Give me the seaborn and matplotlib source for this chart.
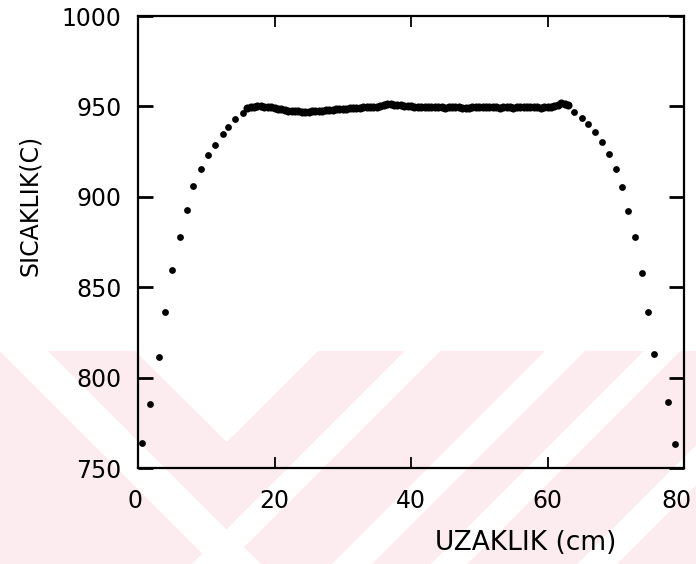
import numpy as np
import matplotlib
matplotlib.use("Agg")
import matplotlib.pyplot as plt
import matplotlib.transforms as mtransforms
from matplotlib.patches import Polygon
import seaborn as sns

# ---- data ----
left_x = [0.63, 1.76, 3.03, 4.0, 4.98, 6.11, 7.14, 8.1, 9.23, 10.26, 11.33, 12.41, 13.23, 14.21, 15.34]
left_y = [763.7, 785.4, 811.2, 836.4, 859.3, 877.8, 892.9, 905.7, 915.4, 923.1, 928.8, 934.6, 938.6, 943.0, 946.2]

plateau_start = 16.0
plateau_step = 0.5
plateau_y = [
    948.9, 949.5, 949.8, 950.0, 950.0, 949.9, 949.7, 949.5, 949.2, 948.8,
    948.4, 948.0, 947.7, 947.5, 947.3, 947.2, 947.1, 947.1, 947.1, 947.2,
    947.3, 947.4, 947.6, 947.8, 947.9, 948.1, 948.3, 948.4, 948.6, 948.7,
    948.9, 949.0, 949.1, 949.3, 949.4, 949.5, 949.6, 949.8, 949.9, 950.2,
    950.8, 951.3, 951.2, 950.6, 950.5, 950.6, 950.4, 950.3, 950.1, 949.9,
    949.8, 949.7, 949.6, 949.6, 949.5, 949.5, 949.5, 949.4, 949.3, 949.4,
    949.6, 949.7, 949.5, 949.2, 949.0, 949.3, 949.7, 949.8, 949.6, 949.5,
    949.4, 949.5, 949.5, 949.4, 949.3, 949.4, 949.6, 949.5, 949.3, 949.5,
    949.8, 949.6, 949.4, 949.5, 949.6, 949.4, 949.3, 949.5, 949.6, 949.7,
    950.1, 950.9, 951.7, 951.5, 950.8,
]

right_x = [63.9, 65.0, 66.0, 67.0, 68.0, 69.0, 70.0, 70.9, 71.75, 72.8, 73.8, 74.7, 75.65, 77.6, 78.7]
right_y = [947.1, 943.4, 940.0, 935.6, 930.5, 923.8, 915.2, 905.4, 892.1, 877.8, 857.7, 836.5, 813.1, 786.5, 763.3]

x_ticks = [0, 20, 40, 60, 80]
y_ticks = [750, 800, 850, 900, 950, 1000]
x_label = "UZAKLIK (cm)"
y_label = "SICAKLIK(C)"

plateau_x = [plateau_start + plateau_step * i for i in range(len(plateau_y))]
edge_x = left_x + right_x
edge_y = left_y + right_y

# ---- figure ----
sns.set_style("white")
plt.rcParams["font.family"] = ["DejaVu Sans"]
plt.rcParams["text.color"] = "black"

W, H = 696, 564
fig = plt.figure(figsize=(W / 100, H / 100), dpi=100)
fig.patch.set_facecolor("white")

# background watermark (pale pink stripes in the lower band)
pink = "#fdecef"
def px(pts):
    return [(x / W, 1 - y / H) for x, y in pts]

fig.patches.append(Polygon(px([(0, 351), (696, 351), (696, 564), (0, 564)]),
                           closed=True, transform=fig.transFigure,
                           facecolor=pink, edgecolor="none", zorder=-2))
white_shapes = [
    [(0, 351), (48, 351), (261, 564), (213, 564), (0, 351)],
    [(135, 351), (318, 351), (227, 442)],
    [(405, 351), (440, 351), (227, 564), (192, 564)],
    [(545, 351), (585, 351), (372, 564), (332, 564)],
    [(644, 351), (680, 351), (467, 564), (431, 564)],
    [(790, 351), (830, 351), (617, 564), (577, 564)],
]
for shp in white_shapes:
    fig.patches.append(Polygon(px(shp), closed=True, transform=fig.transFigure,
                               facecolor="white", edgecolor="none", zorder=-1))

ax = fig.add_axes([138 / W, 1 - 468 / H, (684 - 138) / W, (468 - 16) / H])
ax.set_zorder(5)
ax.patch.set_alpha(0)

sns.scatterplot(x=edge_x, y=edge_y, color="black", s=24, linewidth=0, ax=ax, zorder=3)
sns.scatterplot(x=plateau_x, y=plateau_y, color="black", s=34, linewidth=0, ax=ax, zorder=3)

ax.set_xlim(0, 80)
ax.set_ylim(750, 1000)
ax.set_xticks(x_ticks)
ax.set_yticks(y_ticks)
ax.set_xticklabels([str(v) for v in x_ticks])
ax.set_yticklabels([str(v) for v in y_ticks])

for s in ax.spines.values():
    s.set_visible(True)
    s.set_color("black")
    s.set_linewidth(1.6)

ax.tick_params(axis="y", which="both", direction="in", length=11, width=2.0,
               left=True, right=True, labelsize=17, pad=12, colors="black",
               labelcolor="black")
ax.tick_params(axis="x", which="both", direction="in", length=8, width=1.3,
               bottom=True, top=True, labelsize=17, pad=15, colors="black",
               labelcolor="black")

ax.set_xlabel(x_label, fontsize=19, color="black")
ax.xaxis.set_label_coords((526 - 138) / 546, (468 - 543) / 452)
ax.xaxis.label.set_va("center")
ax.set_ylabel(y_label, fontsize=17, color="black")
ax.yaxis.set_label_coords((30 - 138) / 546, (468 - 205) / 452)
ax.yaxis.label.set_va("center")

# nudge the end labels inward a little, as in the reference
xlabels = ax.get_xticklabels()
xlabels[-1].set_transform(xlabels[-1].get_transform() +
                          mtransforms.ScaledTranslation(-8 / 100, 0, fig.dpi_scale_trans))
xlabels[0].set_transform(xlabels[0].get_transform() +
                         mtransforms.ScaledTranslation(-3 / 100, 0, fig.dpi_scale_trans))

fig.savefig("out.png", dpi=100)
